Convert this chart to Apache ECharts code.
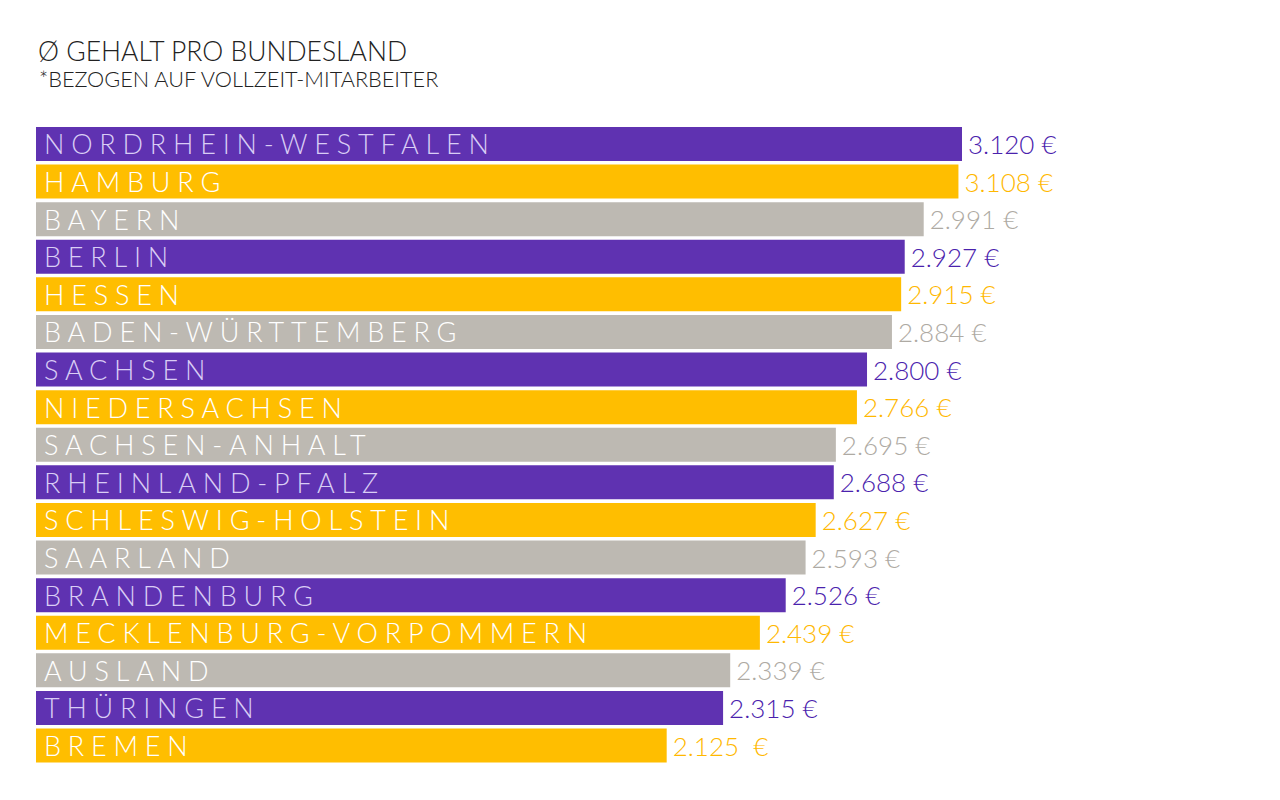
<!DOCTYPE html>
<html>
<head>
<meta charset="utf-8">
<script src="https://cdn.jsdelivr.net/npm/echarts@6/dist/echarts.min.js"></script>
<style>
  html, body { margin: 0; padding: 0; background: #fff; }
  #chart { width: 1280px; height: 800px; }
</style>
</head>
<body>
<div id="chart"></div>
<script>
const titleText = 'Ø GEHALT PRO BUNDESLAND';
const subtitleText = '*BEZOGEN AUF VOLLZEIT-MITARBEITER';
const categories = ['NORDRHEIN-WESTFALEN','HAMBURG','BAYERN','BERLIN','HESSEN','BADEN-WÜRTTEMBERG','SACHSEN','NIEDERSACHSEN','SACHSEN-ANHALT','RHEINLAND-PFALZ','SCHLESWIG-HOLSTEIN','SAARLAND','BRANDENBURG','MECKLENBURG-VORPOMMERN','AUSLAND','THÜRINGEN','BREMEN'];
const values = [3120,3108,2991,2927,2915,2884,2800,2766,2695,2688,2627,2593,2526,2439,2339,2315,2125];
const valueLabels = ['3.120 €','3.108 €','2.991 €','2.927 €','2.915 €','2.884 €','2.800 €','2.766 €','2.695 €','2.688 €','2.627 €','2.593 €','2.526 €','2.439 €','2.339 €','2.315 €','2.125  €'];

const barColors = ['#5f32b1', '#ffbe00', '#bdb9b2'];
const nameColors = ['#d9cdf5', '#ffffff', '#ffffff'];
const valueColors = ['#4a22ad', '#ffb800', '#aeaaa3'];
const FONT = 'Lato, "Open Sans", sans-serif';

const chart = echarts.init(document.getElementById('chart'), null, { renderer: 'svg' });

chart.setOption({
  animation: false,
  backgroundColor: '#ffffff',
  title: [
    { text: titleText, left: 33, top: 32, textStyle: { fontFamily: FONT, fontWeight: 300, fontSize: 26.5, color: '#222222' } },
    { text: subtitleText, left: 34, top: 63, textStyle: { fontFamily: FONT, fontWeight: 300, fontSize: 21.7, color: '#222222' } }
  ],
  grid: { left: 36, top: 125.2, bottom: 35.7, width: 926, containLabel: false },
  xAxis: { type: 'value', min: 0, max: 3120, show: false },
  yAxis: { type: 'category', data: categories, inverse: true, show: false },
  series: [
    {
      type: 'bar',
      data: values.map((v, i) => ({ value: v, itemStyle: { color: barColors[i % 3] }, label: { color: nameColors[i % 3] } })),
      barWidth: 34,
      label: {
        show: true,
        position: 'insideLeft',
        distance: 8,
        formatter: p => categories[p.dataIndex],
        fontFamily: FONT,
        fontWeight: 300,
        fontSize: 27,
        color: '#ffffff'
      },
      z: 2
    },
    {
      type: 'bar',
      data: values.map((v, i) => ({ value: v, label: { color: valueColors[i % 3] } })),
      barWidth: 34,
      barGap: '-100%',
      itemStyle: { color: 'rgba(0,0,0,0)' },
      label: {
        show: true,
        position: 'right',
        distance: 6,
        formatter: p => valueLabels[p.dataIndex],
        fontFamily: FONT,
        fontWeight: 300,
        fontSize: 26,
        color: '#000'
      },
      silent: true,
      z: 3
    }
  ]
});

function spaceLetters() {
  const set = new Set(categories);
  document.querySelectorAll('#chart text').forEach(t => {
    if (set.has(t.textContent)) {
      t.style.letterSpacing = '6.8px';
    }
  });
}
chart.on('finished', spaceLetters);
spaceLetters();
</script>
</body>
</html>
